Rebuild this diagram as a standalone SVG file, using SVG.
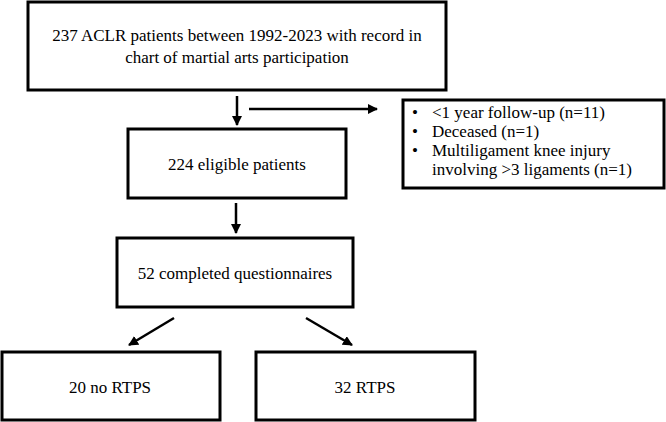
<svg xmlns="http://www.w3.org/2000/svg" width="666" height="422" viewBox="0 0 666 422">
<style>
.box{fill:#fff;stroke:#000;stroke-width:3}
.t{font-family:"Liberation Serif","Times New Roman",serif;font-size:17px;fill:#000}
.c{text-anchor:middle}
.ln{stroke:#000;stroke-width:2.5;fill:none}
</style>
<defs>
<marker id="ah" viewBox="0 0 10 10" refX="9" refY="5" markerWidth="4" markerHeight="4" orient="auto" markerUnits="strokeWidth">
<path d="M0,0 L10,5 L0,10 Z" fill="#000"/>
</marker>
</defs>
<rect width="666" height="422" fill="#fff"/>
<g id="connectors">
<line class="ln" x1="237" y1="96" x2="237" y2="125" marker-end="url(#ah)"/>
<line class="ln" x1="249" y1="109" x2="377" y2="109" marker-end="url(#ah)"/>
<line class="ln" x1="236" y1="203" x2="236" y2="233" marker-end="url(#ah)"/>
<line class="ln" x1="174" y1="318" x2="129" y2="345" marker-end="url(#ah)"/>
<line class="ln" x1="306" y1="318" x2="352" y2="345" marker-end="url(#ah)"/>
</g>
<g id="n1">
<rect class="box" x="28" y="2" width="418" height="88"/>
<text class="t c" x="237" y="41">237 ACLR patients between 1992-2023 with record in</text>
<text class="t c" x="237" y="63">chart of martial arts participation</text>
</g>
<g id="n2">
<rect class="box" x="403" y="100" width="261" height="88"/>
<text class="t" x="412" y="118">•</text><text class="t" x="432" y="118">&lt;1 year follow-up (n=11)</text>
<text class="t" x="412" y="137">•</text><text class="t" x="432" y="137">Deceased (n=1)</text>
<text class="t" x="412" y="156">•</text><text class="t" x="432" y="156">Multiligament knee injury</text>
<text class="t" x="432" y="175">involving &gt;3 ligaments (n=1)</text>
</g>
<g id="n3">
<rect class="box" x="128" y="129" width="218" height="69"/>
<text class="t c" x="237" y="170">224 eligible patients</text>
</g>
<g id="n4">
<rect class="box" x="117" y="238" width="236" height="69"/>
<text class="t c" x="235" y="279">52 completed questionnaires</text>
</g>
<g id="n5">
<rect class="box" x="2" y="352" width="218" height="68"/>
<text class="t c" x="110" y="393">20 no RTPS</text>
</g>
<g id="n6">
<rect class="box" x="256" y="352" width="219" height="68"/>
<text class="t c" x="365" y="393">32 RTPS</text>
</g>
</svg>
